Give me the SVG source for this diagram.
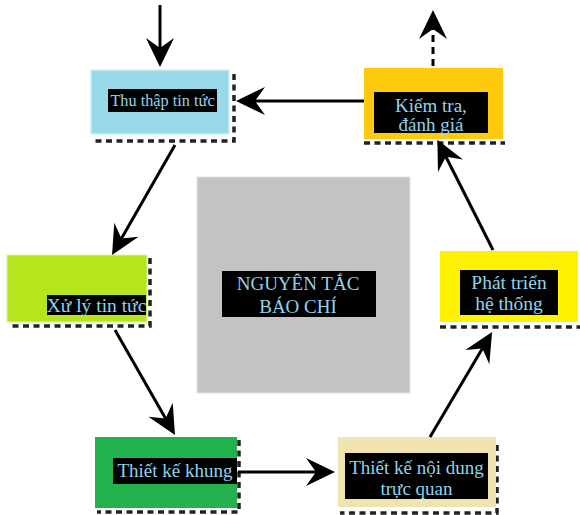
<svg xmlns="http://www.w3.org/2000/svg" width="580" height="515" viewBox="0 0 580 515">
<defs>
<style>
.sh{fill:none;stroke:#222;stroke-width:3.5;stroke-dasharray:6 4.5}
.tb{fill:#000}
.t{font-family:"Liberation Serif","Times New Roman",serif;fill:#8fd3ec;text-anchor:middle}
.c{stroke:#000;stroke-width:3;fill:none}
</style>
<marker id="ah" viewBox="-30 -16 32 32" markerWidth="32" markerHeight="32" refX="-8" refY="0" orient="auto" markerUnits="userSpaceOnUse">
<path d="M0,0 L-29,-14 L-19,0 L-29,14 Z" fill="#000"/>
</marker>
</defs>
<rect width="580" height="515" fill="#fff"/>

<g id="center">
<rect x="197" y="177" width="213" height="216" fill="#c3c3c3" stroke="#e2e2e2" stroke-width="1"/>
<rect class="tb" x="222" y="271" width="154" height="46"/>
<text class="t" x="298" y="290" font-size="19">NGUYÊN TẮC</text>
<text class="t" x="298" y="313" font-size="19">BÁO CHÍ</text>
</g>

<g id="thu-thap">
<path class="sh" d="M234,74 V141 H93"/>
<rect x="91" y="70" width="138" height="64" fill="#99d9ea" stroke="#c8f2f2" stroke-width="1.5"/>
<rect class="tb" x="108" y="89" width="109" height="23"/>
<text class="t" x="162.5" y="106" font-size="16.3">Thu thập tin tức</text>
</g>

<g id="kiem-tra">
<path class="sh" d="M364,143 H505"/>
<rect x="364" y="68" width="139" height="71" fill="#ffc90e"/>
<rect class="tb" x="374" y="92" width="114" height="41"/>
<text class="t" x="431" y="112" font-size="19">Kiểm tra,</text>
<text class="t" x="431" y="131" font-size="19">đánh giá</text>
</g>

<g id="xu-ly">
<path class="sh" d="M150,258 V326 H9"/>
<rect x="7" y="255" width="140" height="67" fill="#b5e61d" stroke="#d8f5a0" stroke-width="1"/>
<rect class="tb" x="47" y="295" width="99" height="20"/>
<text class="t" x="96.5" y="312" font-size="19.5">Xử lý tin tức</text>
</g>

<g id="phat-trien">
<path class="sh" d="M440,327 H580"/>
<rect x="440" y="251" width="138" height="71" fill="#fff200"/>
<rect class="tb" x="460" y="270" width="98" height="45"/>
<text class="t" x="509" y="289" font-size="19.5">Phát triển</text>
<text class="t" x="509" y="310" font-size="19.5">hệ thống</text>
</g>

<g id="thiet-ke-khung">
<path class="sh" d="M239,440 V512 H97"/>
<rect x="95" y="437" width="142" height="71" fill="#22b14c"/>
<rect class="tb" x="113" y="458" width="124" height="26"/>
<text class="t" x="175" y="477" font-size="19">Thiết kế khung</text>
</g>

<g id="thiet-ke-noi-dung">
<path class="sh" d="M497,445 V513 H340"/>
<rect x="338" y="437" width="158" height="70" fill="#efe4b0"/>
<rect class="tb" x="345" y="453" width="143" height="46"/>
<text class="t" x="416.5" y="474" font-size="19">Thiết kế nội dung</text>
<text class="t" x="416.5" y="495" font-size="19">trực quan</text>
</g>

<g id="connectors">
<line class="c" x1="160" y1="5" x2="160" y2="59" marker-end="url(#ah)"/>
<line class="c" x1="364" y1="101" x2="244" y2="101" marker-end="url(#ah)"/>
<line class="c" x1="175" y1="145" x2="116" y2="248" marker-end="url(#ah)"/>
<line class="c" x1="115" y1="330" x2="171" y2="428" marker-end="url(#ah)"/>
<line class="c" x1="238" y1="472" x2="327" y2="472" marker-end="url(#ah)"/>
<line class="c" x1="430" y1="437" x2="488" y2="339" marker-end="url(#ah)"/>
<line class="c" x1="493" y1="250" x2="441" y2="147" marker-end="url(#ah)"/>
<line class="c" x1="433" y1="66" x2="433" y2="18" stroke-dasharray="7 5" marker-end="url(#ah)"/>
</g>
</svg>
